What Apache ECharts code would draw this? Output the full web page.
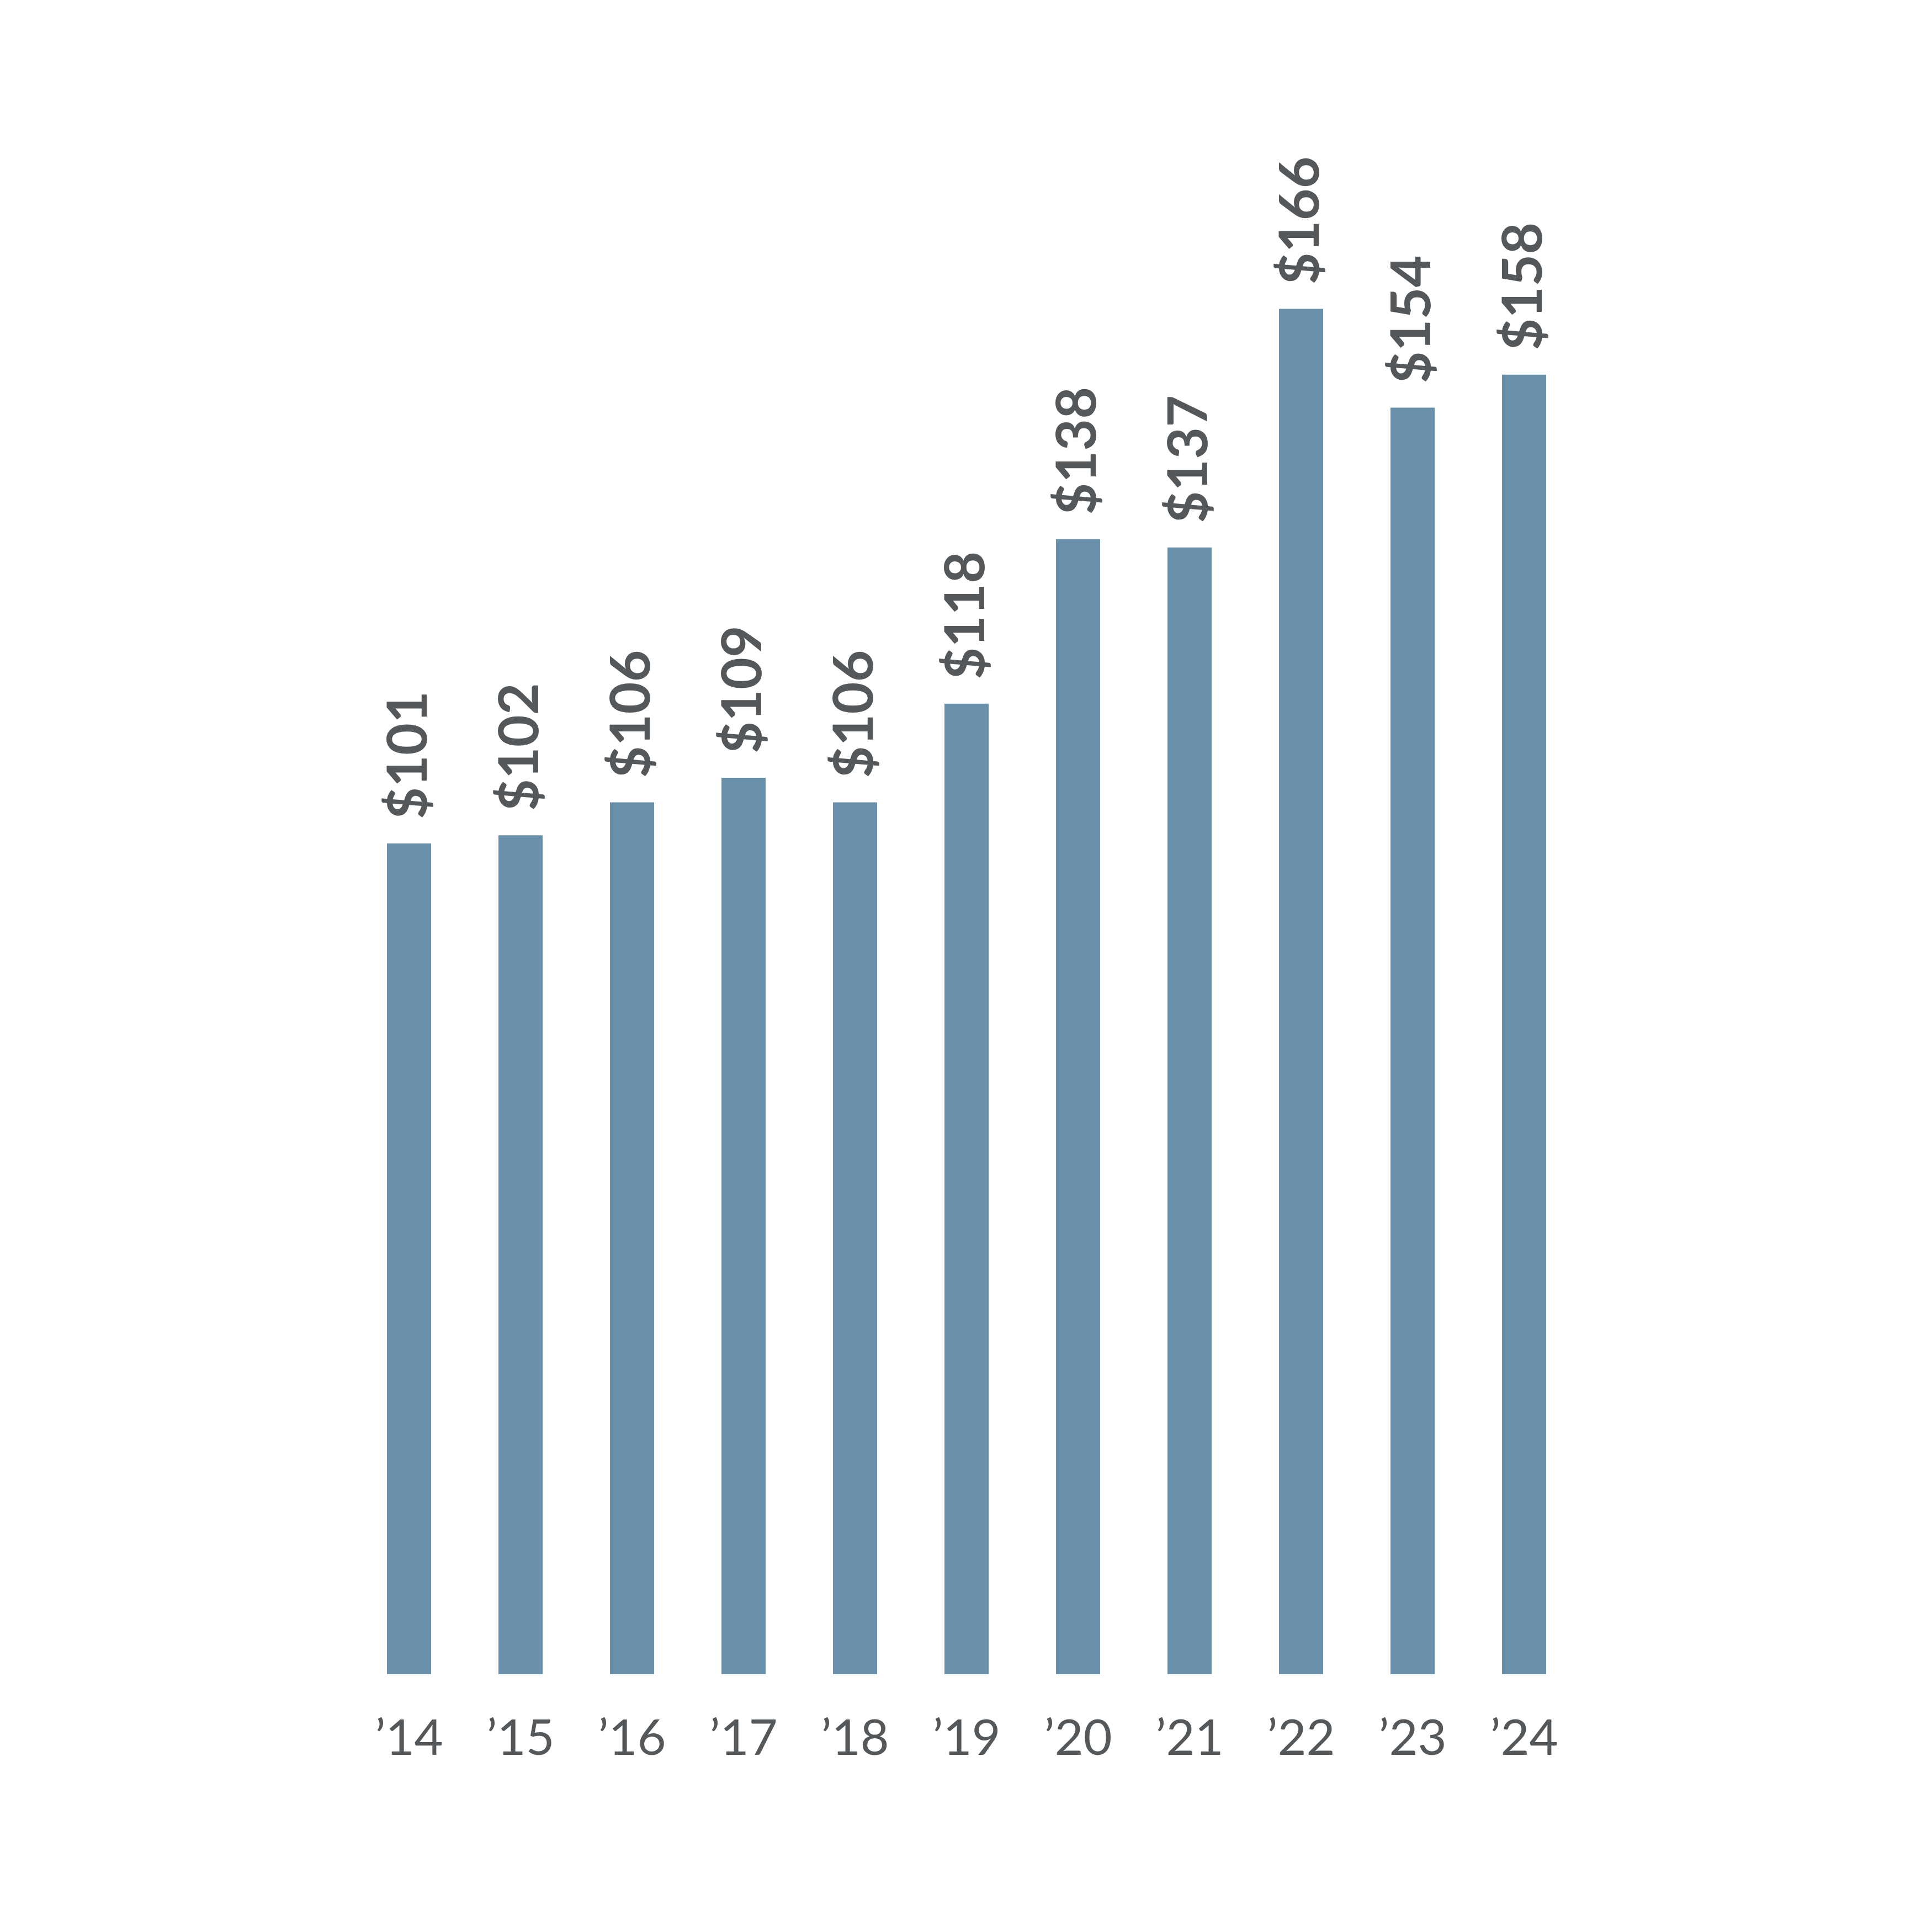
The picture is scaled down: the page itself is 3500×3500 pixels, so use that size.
<!DOCTYPE html>
<html>
<head>
<meta charset="utf-8">
<script src="https://cdn.jsdelivr.net/npm/echarts@6/dist/echarts.min.js"></script>
<style>
  html, body { margin: 0; padding: 0; background: #ffffff; }
  #chart { width: 3500px; height: 3500px; }
</style>
</head>
<body>
<div id="chart"></div>
<script>
// years along the bottom
var years = ['’14', '’15', '’16', '’17', '’18', '’19', '’20', '’21', '’22', '’23', '’24'];
// bar values (dollars)
var values = [101, 102, 106, 109, 106, 118, 138, 137, 166, 154, 158];

var myChart = echarts.init(document.getElementById('chart'));

var option = {
    backgroundColor: '#ffffff',
    animation: false,
    grid: {
        left: 640,
        right: 638,
        top: 53,
        bottom: 467,
        containLabel: false
    },
    xAxis: {
        type: 'category',
        data: years,
        axisLine: { show: false },
        axisTick: { show: false },
        axisLabel: {
            margin: 72,
            color: '#54585b',
            fontFamily: 'Lato',
            fontWeight: 'normal',
            fontSize: 90
        }
    },
    yAxis: {
        type: 'value',
        min: 0,
        max: 200,
        show: false
    },
    series: [
        {
            type: 'bar',
            data: values,
            barWidth: 80,
            itemStyle: { color: '#6890aa' },
            label: {
                show: true,
                position: 'top',
                rotate: 90,
                align: 'left',
                verticalAlign: 'middle',
                distance: 44,
                color: '#54585b',
                fontFamily: 'Lato',
                fontWeight: 'bold',
                fontSize: 100,
                formatter: function (p) {
                    return '$' + p.value;
                }
            }
        }
    ]
};

myChart.setOption(option);
</script>
</body>
</html>
